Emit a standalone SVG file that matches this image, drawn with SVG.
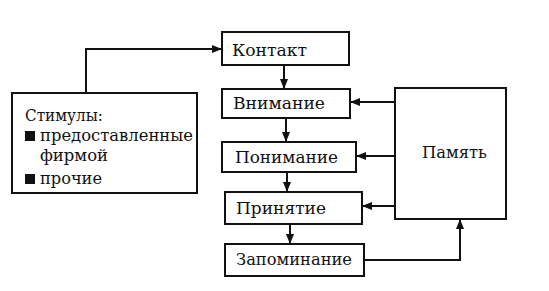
<svg xmlns="http://www.w3.org/2000/svg" width="549" height="291" viewBox="0 0 549 291" font-family="'DejaVu Serif', 'Liberation Serif', serif" font-size="17.5">
<defs>
<marker id="ah" markerWidth="10" markerHeight="8" refX="9" refY="4" orient="auto" markerUnits="userSpaceOnUse">
<path d="M0,0 L10,4 L0,8 Z" fill="#111"/>
</marker>
<style>
.box{fill:#fff;stroke:#111;stroke-width:2}
text{font-family:'DejaVu Serif','Liberation Serif',serif;font-size:17.5px;fill:#111}
.c{fill:none;stroke:#111;stroke-width:2}
</style>
</defs>
<rect width="549" height="291" fill="#fff"/>
<g id="stimuli">
<rect class="box" x="12" y="93" width="185" height="100"/>
<text x="25" y="121" textLength="78" lengthAdjust="spacingAndGlyphs">Стимулы:</text>
<rect x="25" y="131" width="10" height="10" fill="#111"/>
<text x="40" y="141" textLength="153" lengthAdjust="spacingAndGlyphs">предоставленные</text>
<text x="40" y="161" textLength="68" lengthAdjust="spacingAndGlyphs">фирмой</text>
<rect x="25" y="174" width="10" height="10" fill="#111"/>
<text x="40" y="184" textLength="62" lengthAdjust="spacingAndGlyphs">прочие</text>
</g>
<g id="kontakt">
<rect class="box" x="222" y="32" width="127" height="33"/>
<text x="232" y="56" textLength="75" lengthAdjust="spacingAndGlyphs">Контакт</text>
</g>
<g id="vnimanie">
<rect class="box" x="222" y="89" width="128" height="29"/>
<text x="233" y="109" textLength="92" lengthAdjust="spacingAndGlyphs">Внимание</text>
</g>
<g id="ponimanie">
<rect class="box" x="222" y="142" width="134" height="30"/>
<text x="235" y="163" textLength="103" lengthAdjust="spacingAndGlyphs">Понимание</text>
</g>
<g id="prinyatie">
<rect class="box" x="225" y="192" width="137" height="32"/>
<text x="236" y="214" textLength="90" lengthAdjust="spacingAndGlyphs">Принятие</text>
</g>
<g id="zapominanie">
<rect class="box" x="225" y="244" width="139" height="32"/>
<text x="236" y="265" textLength="116" lengthAdjust="spacingAndGlyphs">Запоминание</text>
</g>
<g id="pamyat">
<rect class="box" x="395" y="88" width="111" height="131"/>
<text x="422" y="158" textLength="65" lengthAdjust="spacingAndGlyphs">Память</text>
</g>
<g id="connectors">
<path class="c" d="M86,93 V49 H221" marker-end="url(#ah)"/>
<path class="c" d="M284,65 V88" marker-end="url(#ah)"/>
<path class="c" d="M286,118 V141" marker-end="url(#ah)"/>
<path class="c" d="M287,172 V191" marker-end="url(#ah)"/>
<path class="c" d="M290,224 V243" marker-end="url(#ah)"/>
<path class="c" d="M395,102 H351" marker-end="url(#ah)"/>
<path class="c" d="M395,156 H357" marker-end="url(#ah)"/>
<path class="c" d="M395,206 H363" marker-end="url(#ah)"/>
<path class="c" d="M364,260 H460 V220" marker-end="url(#ah)"/>
</g>
</svg>
